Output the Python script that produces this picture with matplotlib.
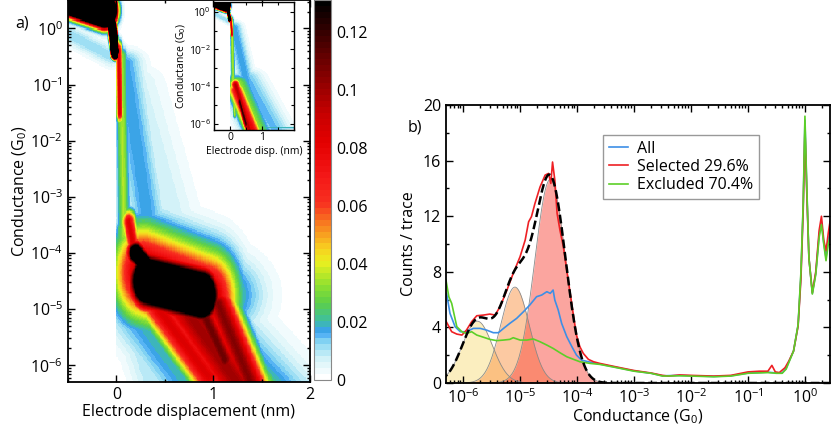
import numpy as np
import matplotlib
matplotlib.use("Agg")
import matplotlib.pyplot as plt
from matplotlib.colors import LinearSegmentedColormap, Normalize
from matplotlib.ticker import NullFormatter, MultipleLocator, FixedLocator, LogLocator

plt.rcParams['font.family'] = ['Open Sans', 'DejaVu Sans']
plt.rcParams['mathtext.fontset'] = 'custom'
plt.rcParams['mathtext.rm'] = 'Open Sans'
plt.rcParams['mathtext.it'] = 'Open Sans:italic'
plt.rcParams['mathtext.bf'] = 'Open Sans:bold'

# ---- colour bar stops ----
cbar_values = [0, 0.006, 0.012, 0.016, 0.02, 0.026, 0.032, 0.04, 0.045, 0.05,
               0.055, 0.061, 0.07, 0.082, 0.092, 0.1, 0.114, 0.126, 0.131]
cbar_colors = ['#ffffff', '#d6f3f8', '#8ad8f2', '#3a9ff5', '#3fbf9f', '#5ccf48',
               '#8ee030', '#eaf020', '#f8cf20', '#f8a020', '#f87020', '#f83020',
               '#f41818', '#e40000', '#c80000', '#a00000', '#5a0000', '#1a0000', '#000000']
cbar_max = 0.131
cbar_ticks = [0, 0.02, 0.04, 0.06, 0.08, 0.1, 0.12]

# ---- 2D histogram features: streaks in (displacement nm, log10 G) ----
# columns: x0, logG0, x1, logG1, width_x, width_logG, peak density
contact_streaks = np.array([
    [-0.60, 0.62, -0.12, 0.32, 0.06, 0.15, 1.00],
    [-0.06, 0.25, -0.015, -0.40, 0.02, 0.07, 1.00],
    [-0.60, 0.00, -0.05, -0.50, 0.06, 0.13, 0.012],
])
main_streaks = np.array([
    [0.025, -0.40, 0.035, -1.50, 0.025, 0.12, 0.085],
    [0.05, -0.50, 0.08, -3.70, 0.045, 0.12, 0.035],
    [0.06, -3.60, 0.08, -4.80, 0.05, 0.15, 0.030],
    [0.08, -0.60, 0.35, -3.70, 0.13, 0.15, 0.018],
    [0.15, -1.00, 0.60, -3.80, 0.22, 0.25, 0.008],
    [0.13, -3.45, 0.20, -4.10, 0.05, 0.15, 0.085],
    [0.20, -4.00, 0.35, -4.30, 0.06, 0.15, 0.20],
    [0.32, -4.50, 0.88, -4.75, 0.11, 0.30, 0.30],
    [0.28, -4.35, 0.95, -4.80, 0.20, 0.55, 0.10],
    [0.25, -4.35, 1.00, -4.75, 0.30, 0.45, 0.035],
    [0.85, -4.90, 1.12, -5.90, 0.09, 0.22, 0.11],
    [0.40, -4.90, 0.95, -6.20, 0.13, 0.20, 0.085],
    [0.72, -5.00, 1.30, -6.45, 0.22, 0.20, 0.10],
    [1.05, -4.90, 1.42, -6.45, 0.12, 0.20, 0.105],
    [0.60, -5.00, 1.40, -6.50, 0.40, 0.30, 0.03],
    [0.20, -5.00, 0.80, -6.40, 0.25, 0.20, 0.02],
    [1.30, -6.33, 2.05, -6.33, 0.15, 0.05, 0.02],
    [0.05, -4.50, 0.40, -6.40, 0.15, 0.20, 0.010],
])
inset_streaks = np.array([
    [0.03, -0.40, 0.06, -1.20, 0.03, 0.12, 0.09],
    [0.06, -0.50, 0.10, -3.70, 0.045, 0.15, 0.035],
    [0.08, -3.50, 0.15, -5.50, 0.04, 0.15, 0.035],
    [0.12, -0.80, 0.55, -4.00, 0.18, 0.20, 0.018],
    [0.17, -3.90, 0.62, -6.40, 0.10, 0.20, 0.095],
    [0.20, -4.20, 0.72, -6.40, 0.17, 0.25, 0.08],
    [0.30, -4.80, 0.50, -6.00, 0.05, 0.20, 0.12],
    [0.20, -3.80, 0.85, -6.40, 0.30, 0.30, 0.035],
    [0.50, -3.50, 1.40, -6.30, 0.35, 0.30, 0.015],
    [0.90, -6.20, 2.05, -6.20, 0.20, 0.05, 0.02],
])

# ---- 1D conductance histograms (log10 G, counts/trace) ----
sel_logG = [-6.30, -6.20, -6.11, -6.02, -5.94, -5.85, -5.76, -5.64, -5.53, -5.44,
            -5.35, -5.23, -5.12, -5.00, -4.91, -4.85, -4.80, -4.74, -4.65, -4.56,
            -4.50, -4.46, -4.43, -4.39, -4.35, -4.30, -4.24, -4.18, -4.12, -4.06,
            -4.01, -3.95, -3.89, -3.80, -3.71, -3.60, -3.30, -3.00, -2.70, -2.50,
            -2.40, -2.20, -2.00, -1.60, -1.30, -1.00, -0.80, -0.65, -0.58, -0.52,
            -0.45, -0.35, -0.28, -0.20, -0.12, -0.07, -0.03, 0.00, 0.03, 0.07,
            0.13, 0.19, 0.25, 0.29, 0.33, 0.37, 0.41, 0.44]
sel_counts = [4.45, 3.69, 3.52, 3.45, 3.81, 4.41, 4.84, 4.89, 4.96, 4.89,
              5.49, 6.69, 7.89, 9.09, 10.29, 11.6, 11.97, 12.9, 14.1, 14.96,
              15.08, 14.36, 15.9, 14.6, 12.2, 11.0, 9.8, 8.1, 6.45, 4.77,
              3.45, 2.61, 2.13, 1.70, 1.53, 1.41, 1.15, 0.90, 0.72, 0.55,
              0.50, 0.58, 0.55, 0.50, 0.55, 0.80, 0.85, 0.85, 1.27, 0.80,
              0.75, 1.10, 1.60, 2.30, 4.10, 7.50, 12.5, 18.3, 14.0, 9.0,
              6.5, 8.0, 11.0, 12.0, 10.3, 9.5, 10.8, 11.6]

exc_logG = [-6.30, -6.25, -6.20, -6.11, -6.02, -5.94, -5.85, -5.76, -5.64, -5.53,
            -5.41, -5.29, -5.18, -5.12, -5.00, -4.88, -4.77, -4.65, -4.53, -4.42,
            -4.30, -4.18, -4.06, -3.95, -3.77, -3.60, -3.30, -3.00, -2.70, -2.50,
            -2.20, -2.00, -1.60, -1.30, -1.00, -0.65, -0.50, -0.40, -0.33, -0.28,
            -0.20, -0.12, -0.07, -0.03, 0.00, 0.03, 0.07, 0.13, 0.19, 0.25,
            0.29, 0.33, 0.37, 0.41, 0.44]
exc_counts = [7.40, 6.20, 5.73, 4.05, 3.69, 3.57, 3.69, 3.45, 3.29, 3.14,
              3.05, 3.09, 3.14, 3.26, 3.09, 3.09, 3.17, 2.97, 2.73, 2.49,
              2.18, 1.89, 1.70, 1.53, 1.41, 1.34, 1.10, 0.85, 0.70, 0.50,
              0.52, 0.50, 0.45, 0.50, 0.70, 0.75, 0.70, 0.70, 1.00, 1.50,
              2.30, 4.20, 8.00, 13.0, 19.2, 14.5, 9.0, 6.4, 7.8, 10.5,
              11.4, 10.0, 8.8, 10.0, 10.5]

all_logG = [-6.29, -6.23, -6.14, -6.05, -5.94, -5.82, -5.70, -5.59, -5.47, -5.38,
            -5.29, -5.18, -5.06, -4.94, -4.83, -4.71, -4.62, -4.53, -4.47, -4.42,
            -4.39, -4.33, -4.27, -4.18, -4.09, -4.01, -3.92, -3.80, -3.60, -3.30,
            -3.00, -2.70, -2.50, -2.20, -2.00, -1.60, -1.30, -1.00, -0.65, -0.50,
            -0.40, -0.33, -0.28, -0.20, -0.12, -0.07, -0.03, 0.00, 0.03, 0.07,
            0.13, 0.19, 0.25, 0.29, 0.33, 0.37, 0.41, 0.44]
all_counts = [6.45, 5.01, 4.05, 3.69, 3.69, 3.93, 3.93, 3.81, 3.62, 3.62,
              3.93, 4.29, 4.65, 5.13, 5.61, 6.21, 6.33, 6.57, 6.45, 6.69,
              5.97, 5.25, 4.29, 3.33, 2.61, 2.01, 1.65, 1.53, 1.36, 1.12,
              0.87, 0.70, 0.52, 0.55, 0.52, 0.47, 0.52, 0.72, 0.78, 0.72,
              0.72, 1.05, 1.55, 2.30, 4.15, 7.80, 12.8, 18.9, 14.3, 9.0,
              6.45, 7.9, 10.7, 11.6, 10.1, 9.0, 10.3, 10.8]

# Gaussian fits of the selected histogram: centre (log10 G), height, width (decades)
fit_centres = [-5.75, -5.09, -4.47]
fit_heights = [4.45, 6.9, 14.65]
fit_widths = [0.265, 0.25, 0.27]
fit_colors = ['#f9df81', '#fb9547', '#f94d41']

main_yticks = [1e-6, 1e-5, 1e-4, 1e-3, 1e-2, 1e-1, 1]
cond_xticks = [1e-6, 1e-5, 1e-4, 1e-3, 1e-2, 1e-1, 1]

# ---- helpers ----
def streak_density(X, Y, streaks):
    Z = np.zeros_like(X)
    for x0, y0, x1, y1, wx, wy, amp in streaks:
        px = (X - x0) / wx
        py = (Y - y0) / wy
        dx = (x1 - x0) / wx
        dy = (y1 - y0) / wy
        t = np.clip((px * dx + py * dy) / (dx * dx + dy * dy), 0, 1)
        d2 = (px - t * dx) ** 2 + (py - t * dy) ** 2
        Z = np.maximum(Z, amp * np.exp(-0.5 * d2))
    return Z

cmap = LinearSegmentedColormap.from_list(
    'cond', list(zip(np.array(cbar_values) / cbar_max, cbar_colors)), N=64)
norm = Normalize(0, cbar_max)

xc = np.linspace(-0.5, 2.0, 301)
yc = np.linspace(-6.35, 0.55, 346)
X, Y = np.meshgrid(xc, yc)
right_of_zero = (X >= 0).astype(float)

Z_main = np.maximum(streak_density(X, Y, contact_streaks),
                    right_of_zero * streak_density(X, Y, main_streaks))
Z_inset = np.maximum(streak_density(X, Y, contact_streaks),
                     right_of_zero * streak_density(X, Y, inset_streaks))

fig = plt.figure(figsize=(8.31, 4.28), dpi=100)

# ---- panel a ----
ax = fig.add_axes([0.0818, 0.1075, 0.2912, 0.8915])
ax.pcolormesh(xc, 10 ** yc, Z_main, cmap=cmap, norm=norm, shading='auto', rasterized=True)
ax.set_yscale('log')
ax.set_xlim(-0.5, 2.0)
ax.set_ylim(10 ** -6.3, 10 ** 0.5)
ax.xaxis.set_major_locator(FixedLocator([0, 1, 2]))
ax.xaxis.set_minor_locator(MultipleLocator(0.5))
ax.yaxis.set_major_locator(FixedLocator(main_yticks))
ax.yaxis.set_minor_locator(LogLocator(base=10, subs=np.arange(2, 10), numticks=20))
ax.yaxis.set_minor_formatter(NullFormatter())
ax.tick_params(which='both', direction='in', top=True, right=True, labelsize=11.5, width=1)
ax.tick_params(which='major', length=5)
ax.tick_params(which='minor', length=2.5)
for s in ax.spines.values():
    s.set_linewidth(1.3)
ax.set_xlabel('Electrode displacement (nm)', fontsize=11.5, labelpad=1)
ax.set_ylabel('Conductance (G$_0$)', fontsize=11.5, labelpad=1)

# colour bar
cax = fig.add_axes([0.3779, 0.1121, 0.0205, 0.8879])
cb = fig.colorbar(plt.cm.ScalarMappable(norm=norm, cmap=cmap), cax=cax)
cb.set_ticks(cbar_ticks)
cb.set_ticklabels(['0', '0.02', '0.04', '0.06', '0.08', '0.1', '0.12'])
cb.ax.tick_params(length=0, labelsize=11.5, pad=4)
cb.outline.set_edgecolor('#888888')
cb.outline.set_linewidth(0.8)

# inset
axi = fig.add_axes([0.2575, 0.6972, 0.0963, 0.297])
axi.pcolormesh(xc, 10 ** yc, Z_inset, cmap=cmap, norm=norm, shading='auto', rasterized=True)
axi.set_yscale('log')
axi.set_xlim(-0.5, 2.0)
axi.set_ylim(10 ** -6.3, 10 ** 0.5)
axi.xaxis.set_major_locator(FixedLocator([0, 1]))
axi.xaxis.set_minor_locator(MultipleLocator(0.5))
axi.yaxis.set_major_locator(FixedLocator([1e-6, 1e-4, 1e-2, 1]))
axi.yaxis.set_minor_locator(FixedLocator([1e-5, 1e-3, 1e-1]))
axi.yaxis.set_minor_formatter(NullFormatter())
axi.tick_params(which='both', direction='in', top=True, right=True, labelsize=7.5, width=0.8, pad=2)
axi.tick_params(which='major', length=3)
axi.tick_params(which='minor', length=2)
for s in axi.spines.values():
    s.set_linewidth(1)
axi.set_xlabel('Electrode disp. (nm)', fontsize=7.5, labelpad=2)
axi.set_ylabel('Conductance (G$_0$)', fontsize=7.5, labelpad=1)

fig.text(0.018, 0.935, 'a)', fontsize=11.5)

# ---- panel b ----
bx = fig.add_axes([0.5367, 0.1051, 0.4621, 0.6495])
g = np.linspace(-6.4, 0.5, 700)
fits = []
for c, h, w, col in zip(fit_centres, fit_heights, fit_widths, fit_colors):
    f = h * np.exp(-0.5 * ((g - c) / w) ** 2)
    fits.append(f)
    bx.fill_between(10 ** g, 0, f, color=col, alpha=0.5, lw=0)
    bx.plot(10 ** g, f, color='#8a8a8a', lw=0.6)
bx.plot(10 ** np.array(all_logG), all_counts, color='#3d8fe6', lw=1.2, label='All')
bx.plot(10 ** np.array(sel_logG), sel_counts, color='#ee2024', lw=1.2, label='Selected 29.6%')
bx.plot(10 ** np.array(exc_logG), exc_counts, color='#5ccf28', lw=1.2, label='Excluded 70.4%')
bx.plot(10 ** g, np.sum(fits, axis=0), color='black', lw=1.8, ls=(0, (3.5, 1.5)))
bx.set_xscale('log')
bx.set_xlim(10 ** -6.3, 10 ** 0.44)
bx.set_ylim(0, 20)
bx.xaxis.set_major_locator(FixedLocator(cond_xticks))
bx.xaxis.set_minor_locator(LogLocator(base=10, subs=np.arange(2, 10), numticks=20))
bx.xaxis.set_minor_formatter(NullFormatter())
bx.yaxis.set_major_locator(MultipleLocator(4))
bx.yaxis.set_minor_locator(MultipleLocator(2))
bx.tick_params(which='both', direction='in', top=True, right=True, labelsize=11.5, width=1)
bx.tick_params(which='major', length=5)
bx.tick_params(which='minor', length=2.5)
for s in bx.spines.values():
    s.set_linewidth(1.3)
bx.set_xlabel('Conductance (G$_0$)', fontsize=11.5, labelpad=1)
bx.set_ylabel('Counts / trace', fontsize=11.5, labelpad=4)
leg = bx.legend(loc='upper left', bbox_to_anchor=(0.409, 0.892), fontsize=11.5,
                frameon=True, fancybox=False, edgecolor='#808080', handlelength=1.2,
                handletextpad=0.6, borderpad=0.35, labelspacing=0.15, borderaxespad=0)
leg.get_frame().set_linewidth(1)

fig.text(0.49, 0.692, 'b)', fontsize=11.5)

fig.savefig('out.png', dpi=100)
